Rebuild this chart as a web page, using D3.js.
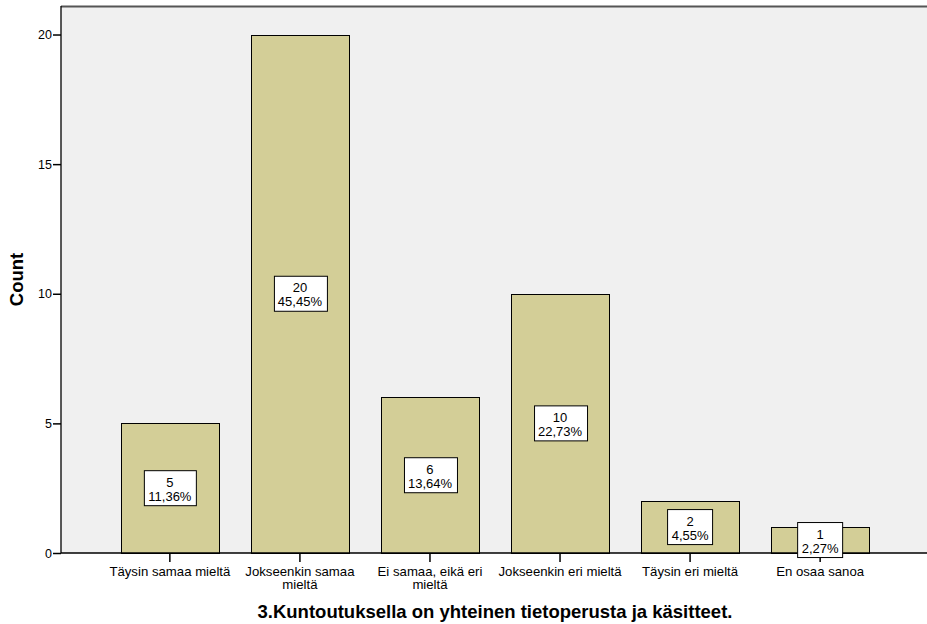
<!DOCTYPE html>
<html>
<head>
<meta charset="utf-8">
<script src="https://cdn.jsdelivr.net/npm/d3@7"></script>
<style>
  html, body { margin: 0; padding: 0; background: #fff; }
  svg { display: block; font-family: "Liberation Sans", Arial, sans-serif; }
</style>
</head>
<body>
<svg id="chart" width="927" height="624"></svg>
<script>
// Response categories and counts
const categories = [
  ["Täysin samaa mieltä"],
  ["Jokseenkin samaa", "mieltä"],
  ["Ei samaa, eikä eri", "mieltä"],
  ["Jokseenkin eri mieltä"],
  ["Täysin eri mieltä"],
  ["En osaa sanoa"]
];
const counts = [5, 20, 6, 10, 2, 1];
const percents = ["11,36%", "45,45%", "13,64%", "22,73%", "4,55%", "2,27%"];
const yTicks = [0, 5, 10, 15, 20];
const xTitle = "3.Kuntoutuksella on yhteinen tietoperusta ja käsitteet.";
const yTitle = "Count";

const svg = d3.select("#chart");
const plotLeft = 61, plotRight = 929, plotTop = 6, plotBottom = 553;
const fontFamily = "Liberation Sans, Arial, sans-serif";

const x = d3.scaleBand()
  .domain(d3.range(categories.length))
  .range([plotLeft, plotRight])
  .paddingInner(0.246)
  .paddingOuter(0.46);

const y = d3.scaleLinear()
  .domain([0, 21.1])
  .range([plotBottom, plotTop]);

// plot background
svg.append("rect")
  .attr("x", plotLeft).attr("y", plotTop)
  .attr("width", plotRight - plotLeft).attr("height", plotBottom - plotTop)
  .attr("fill", "#f0f0f0");

// top frame line
svg.append("line")
  .attr("x1", plotLeft).attr("x2", plotRight)
  .attr("y1", plotTop + 0.5).attr("y2", plotTop + 0.5)
  .attr("stroke", "#555").attr("stroke-width", 2);

// bars
svg.append("g").selectAll("rect")
  .data(counts)
  .join("rect")
  .attr("x", (d, i) => Math.round(x(i)) + 0.5)
  .attr("y", d => Math.round(y(d)) + 0.5)
  .attr("width", Math.round(x.bandwidth()))
  .attr("height", d => Math.round(y(0)) - Math.round(y(d)))
  .attr("fill", "#d3ce97")
  .attr("stroke", "#000")
  .attr("stroke-width", 1);

// y axis
const yAxis = svg.append("g")
  .attr("transform", `translate(${plotLeft},0)`)
  .call(d3.axisLeft(y).tickValues(yTicks).tickSize(8).tickPadding(1));
yAxis.select(".domain").attr("stroke", "#000").attr("stroke-width", 1.3)
  .attr("d", `M0,${plotTop}V${plotBottom}`);
yAxis.selectAll(".tick line").attr("stroke", "#000").attr("stroke-width", 1.5);
yAxis.selectAll(".tick text").attr("font-size", 12.5).attr("fill", "#000")
  .attr("font-family", fontFamily);

// x axis
const xAxis = svg.append("g")
  .attr("transform", `translate(0,${plotBottom})`)
  .call(d3.axisBottom(x).tickSize(9).tickFormat(""));
xAxis.select(".domain").attr("stroke", "#000").attr("stroke-width", 1.5)
  .attr("d", `M${plotLeft},0H${plotRight}`);
xAxis.selectAll(".tick line").attr("stroke", "#000").attr("stroke-width", 1.5);

// category labels (wrapped)
svg.append("g").selectAll("text")
  .data(categories)
  .join("text")
  .attr("x", (d, i) => x(i) + x.bandwidth() / 2)
  .attr("y", 575.5)
  .attr("text-anchor", "middle")
  .attr("font-size", 13.2)
  .attr("fill", "#000")
  .each(function(lines) {
    const cx = d3.select(this).attr("x");
    d3.select(this).selectAll("tspan")
      .data(lines)
      .join("tspan")
      .attr("x", cx)
      .attr("dy", (l, j) => j === 0 ? 0 : 13)
      .text(l => l);
  });

// value labels in boxes at bar midpoints
const labels = svg.append("g").selectAll("g")
  .data(counts)
  .join("g")
  .attr("transform", (d, i) => `translate(${x(i) + x.bandwidth() / 2},${y(d / 2)})`);

labels.each(function(d, i) {
  const g = d3.select(this);
  const box = g.append("rect");
  const t = g.append("text")
    .attr("text-anchor", "middle")
    .attr("font-size", 13)
    .attr("fill", "#000");
  t.append("tspan").attr("x", 0).attr("y", -1.5).text(d);
  t.append("tspan").attr("x", 0).attr("y", 12.5).text(percents[i]);
  const w = t.node().getBBox().width + 8;
  box.attr("x", Math.round(-w / 2) + 0.5).attr("y", -17.5)
    .attr("width", Math.round(w)).attr("height", 35)
    .attr("fill", "#fff").attr("stroke", "#000").attr("stroke-width", 1);
});

// axis titles
svg.append("text")
  .attr("transform", `translate(23,${(plotTop + plotBottom) / 2}) rotate(-90)`)
  .attr("text-anchor", "middle")
  .attr("font-size", 18.5)
  .attr("font-weight", "bold")
  .attr("fill", "#000")
  .text(yTitle);

svg.append("text")
  .attr("x", (plotLeft + plotRight) / 2)
  .attr("y", 618)
  .attr("text-anchor", "middle")
  .attr("font-size", 18.5)
  .attr("font-weight", "bold")
  .attr("fill", "#000")
  .text(xTitle);
</script>
</body>
</html>
